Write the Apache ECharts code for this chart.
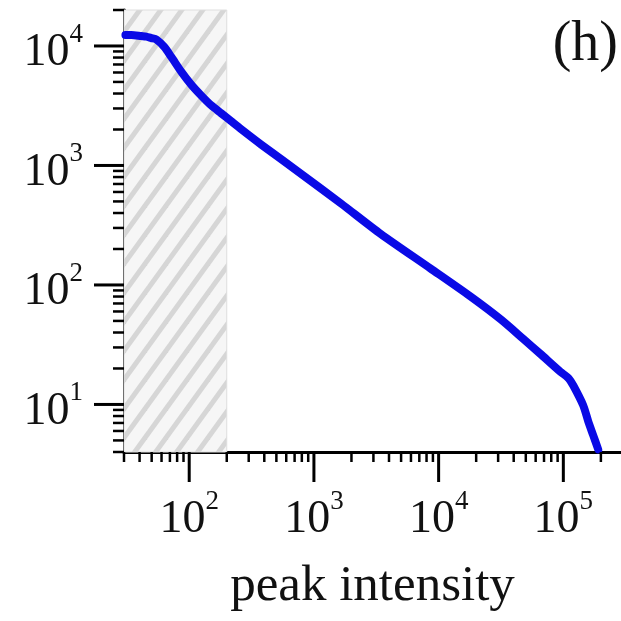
<!DOCTYPE html>
<html>
<head>
<meta charset="utf-8">
<script src="https://cdn.jsdelivr.net/npm/echarts@6/dist/echarts.min.js"></script>
<style>
html,body{margin:0;padding:0;background:#fff;}
#chart{width:621px;height:621px;}
</style>
</head>
<body>
<div id="chart"></div>
<script>
// ---- data ----
const xRange = [30, 290000];
const yRange = [4, 20000];
const hatchRange = [30, 200];
const intensity = [30.8, 34.4, 41.3, 45.3, 49.7, 54.5, 63.1, 71.8, 86.3, 103.8, 124.7, 150, 180.3, 216.8, 260.6, 376.7, 787, 1644, 3436, 8630, 18030, 31330, 47860, 65460, 94620, 110000, 120200, 144500, 158500, 173800, 190500];
const counts    = [12330, 12330, 12100, 11990, 11650, 11320, 9810, 8110, 6095, 4750, 3855, 3186, 2735, 2346, 2015, 1500, 853, 482, 267, 137, 80, 51.7, 35.3, 26.5, 18.8, 16.6, 14.4, 9.8, 7.2, 5.5, 4.2];
const xMajor = [100, 1000, 10000, 100000];
const yMajor = [10, 100, 1000, 10000];
const panelLabel = '(h)';
const xName = 'peak intensity';

// minor ticks 2..9 x 10^k within range
function minorTicks(range) {
  const out = [];
  for (let e = -1; e <= 6; e++) {
    for (let m = 2; m <= 9; m++) {
      const v = m * Math.pow(10, e);
      if (v >= range[0] * 0.999 && v <= range[1] * 1.001) out.push(v);
    }
  }
  return out;
}
const xMinor = minorTicks(xRange);
const yMinor = minorTicks(yRange);

const tickData = [];
xMajor.forEach(v => tickData.push([v, yRange[0], 0, 30, 3]));
xMinor.forEach(v => tickData.push([v, yRange[0], 0, 10, 2.5]));
yMajor.forEach(v => tickData.push([xRange[0], v, 1, 30, 3]));
yMinor.forEach(v => tickData.push([xRange[0], v, 1, 11, 2.5]));

// hatch pattern
const W = 21, H = 29;
const pc = document.createElement('canvas');
pc.width = W; pc.height = H;
const g = pc.getContext('2d');
g.fillStyle = '#f6f6f6';
g.fillRect(0, 0, W, H);
g.strokeStyle = '#d6d6d6';
g.lineWidth = 5;
for (const dx of [-W, 0, W]) {
  g.beginPath();
  g.moveTo(dx - W, 2 * H);
  g.lineTo(dx + 2 * W, -H);
  g.stroke();
}

const FONT = 'Liberation Serif';
function powLabel(v) {
  const e = Math.round(Math.log10(v));
  if (Math.abs(Math.pow(10, e) - v) / v > 1e-6) return '';
  return '{b|10}{s|' + e + '}';
}
const rich = {
  b: { fontSize: 46, lineHeight: 64, fontFamily: FONT, color: '#111' },
  s: { fontSize: 27, lineHeight: 27, fontFamily: FONT, color: '#111', verticalAlign: 'top' }
};

const chart = echarts.init(document.getElementById('chart'), null, { renderer: 'canvas' });
chart.setOption({
  animation: false,
  backgroundColor: '#fff',
  grid: { left: 124, right: 0, top: 10, bottom: 169, containLabel: false },
  graphic: [{
    type: 'text', right: 3, top: 17, z: 10,
    style: { text: panelLabel, font: '56px "Liberation Serif"', fill: '#111' }
  }],
  xAxis: {
    type: 'log', logBase: 10, min: xRange[0], max: xRange[1],
    name: xName, nameLocation: 'middle', nameGap: 109,
    nameTextStyle: { fontFamily: FONT, fontSize: 51, color: '#111' },
    axisLine: { show: true, lineStyle: { color: '#000', width: 3 } },
    axisTick: { show: false },
    splitLine: { show: false },
    minorTick: { show: false },
    axisLabel: { formatter: powLabel, rich: rich, margin: 36, showMinLabel: false, showMaxLabel: false, hideOverlap: false }
  },
  yAxis: {
    type: 'log', logBase: 10, min: yRange[0], max: yRange[1],
    axisLine: { show: true, lineStyle: { color: '#000', width: 3 } },
    axisTick: { show: false },
    splitLine: { show: false },
    minorTick: { show: false },
    axisLabel: { formatter: powLabel, rich: rich, margin: 41, padding: [14, 0, 0, 0], showMinLabel: false, showMaxLabel: false, hideOverlap: false }
  },
  series: [
    {
      type: 'line', data: [], z: 1, silent: true,
      markArea: {
        silent: true,
        itemStyle: { color: { image: pc, repeat: 'repeat' }, borderColor: '#dedede', borderWidth: 1 },
        data: [[{ coord: [hatchRange[0], yRange[0]] }, { coord: [hatchRange[1], yRange[1]] }]]
      }
    },
    {
      type: 'line', z: 3, silent: true,
      data: intensity.map((x, i) => [x, counts[i]]),
      showSymbol: false, symbol: 'none',
      smooth: 0.25,
      lineStyle: { color: '#0a0ae6', width: 8, cap: 'round', join: 'round' }
    },
    {
      type: 'custom', z: 5, silent: true, clip: false,
      dimensions: ['x', 'y', 'axis', 'len', 'w'],
      encode: { x: 0, y: 1 },
      data: tickData,
      renderItem: function (params, api) {
        const p = api.coord([api.value(0), api.value(1)]);
        const axis = api.value(2), len = api.value(3), w = api.value(4);
        const shape = axis === 0
          ? { x1: p[0], y1: p[1], x2: p[0], y2: p[1] + len }
          : { x1: p[0], y1: p[1], x2: p[0] - len, y2: p[1] };
        return { type: 'line', shape: shape, style: { stroke: '#000', lineWidth: w } };
      }
    }
  ]
});
</script>
</body>
</html>
